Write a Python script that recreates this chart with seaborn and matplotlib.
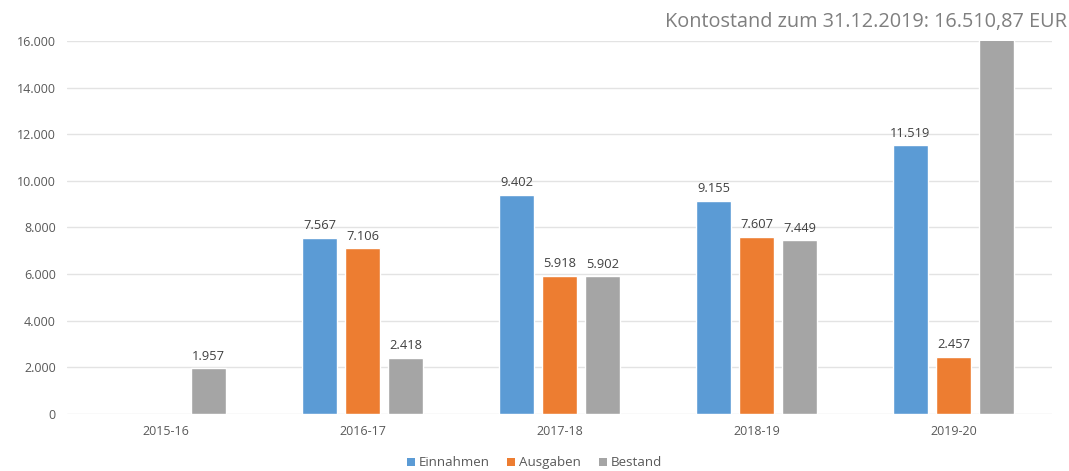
import matplotlib
matplotlib.use("Agg")
import matplotlib.pyplot as plt
import seaborn as sns
import pandas as pd
import numpy as np
from matplotlib.patches import Patch

categories = ["2015-16", "2016-17", "2017-18", "2018-19", "2019-20"]
einnahmen = [np.nan, 7567, 9402, 9155, 11519]
ausgaben = [np.nan, 7106, 5918, 7607, 2457]
bestand = [1957, 2418, 5902, 7449, 16510.87]
series_names = ["Einnahmen", "Ausgaben", "Bestand"]
colors = ["#5B9BD5", "#ED7D31", "#A5A5A5"]
title_text = "Kontostand zum 31.12.2019: 16.510,87 EUR"
yticks = [0, 2000, 4000, 6000, 8000, 10000, 12000, 14000, 16000]

rows = []
for s, vals in zip(series_names, [einnahmen, ausgaben, bestand]):
    for c, v in zip(categories, vals):
        rows.append({"Jahr": c, "Serie": s, "Wert": v})
df = pd.DataFrame(rows)

sns.set_theme(style="white")
plt.rcParams["font.family"] = ["Open Sans", "DejaVu Sans"]

fig = plt.figure(figsize=(10.69, 4.71), dpi=100)
ax = fig.add_axes([0.0627, 0.121, 0.9213, 0.792])

sns.barplot(data=df, x="Jahr", y="Wert", hue="Serie", order=categories,
            hue_order=series_names, palette=colors, width=0.655, gap=0.19,
            saturation=1, errorbar=None, legend=False, ax=ax, zorder=3)

ax.set_ylim(0, 16000)
ax.set_xlim(-0.5, len(categories) - 0.5)
ax.set_yticks(yticks)
ax.set_yticklabels([f"{v:,}".replace(",", ".") for v in yticks])
ax.yaxis.grid(True, color="#E3E3E3", linewidth=1, zorder=0)
ax.set_axisbelow(True)
for sp in ax.spines.values():
    sp.set_visible(False)
ax.set_xlabel("")
ax.set_ylabel("")
ax.tick_params(axis="both", length=0, labelsize=9, colors="#595959", pad=8)

for p in ax.patches:
    h = p.get_height()
    if np.isnan(h) or h <= 0 or h > 16000:
        continue
    ax.text(p.get_x() + p.get_width() / 2, h + 250, f"{int(round(h)):,}".replace(",", "."),
            ha="center", va="bottom", fontsize=9.3, color="#404040")

fig.text(0.998, 0.953, title_text, ha="right", va="center", fontsize=14.3, color="#7F7F7F")

handles = [Patch(facecolor=c, edgecolor="none") for c in colors]
fig.legend(handles, series_names, loc="center", bbox_to_anchor=(0.5, 0.017), ncol=3,
           frameon=False, fontsize=9.6, handlelength=0.6, handleheight=0.6,
           handletextpad=0.3, columnspacing=1.3, labelcolor="#595959")

fig.savefig("out.png", dpi=100)
